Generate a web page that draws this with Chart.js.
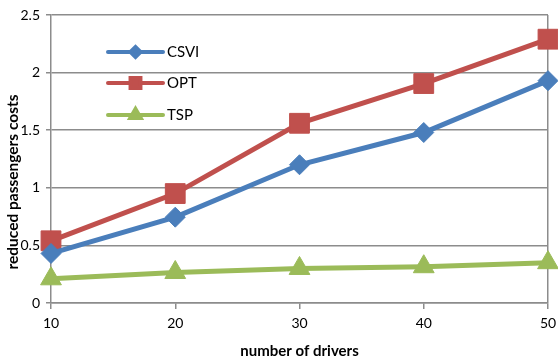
<!DOCTYPE html>
<html>
<head>
<meta charset="utf-8">
<script src="https://cdn.jsdelivr.net/npm/chart.js@4/dist/chart.umd.min.js"></script>
<style>
  html, body { margin: 0; padding: 0; background: #fff; }
  #wrap { width: 558px; height: 360px; }
</style>
</head>
<body>
<div id="wrap"><canvas id="c" width="558" height="360"></canvas></div>
<script>
const drivers = ['10', '20', '30', '40', '50'];
const csvi = [0.43, 0.745, 1.2, 1.48, 1.93];
const opt = [0.54, 0.95, 1.56, 1.905, 2.29];
const tsp = [0.21, 0.265, 0.30, 0.315, 0.35];

const FONT = 'Lato, "Open Sans", sans-serif';
const GRAY = '#8c8c8c';

// legend drawn inside the plot area, upper left
const innerLegend = {
  id: 'innerLegend',
  afterDatasetsDraw(chart) {
    const ctx = chart.ctx;
    const x0 = 108, x1 = 163, ys = [52, 83, 115];
    const sizes = [5, 7, 6];
    chart.data.datasets.forEach((ds, i) => {
      const y = ys[i];
      ctx.save();
      ctx.strokeStyle = ds.borderColor;
      ctx.lineWidth = 4;
      ctx.lineCap = 'round';
      ctx.beginPath();
      ctx.moveTo(x0, y);
      ctx.lineTo(x1, y);
      ctx.stroke();
      ctx.fillStyle = ds.borderColor;
      Chart.helpers.drawPoint(ctx, {
        pointStyle: ds.pointStyle,
        radius: sizes[i],
        rotation: 0,
        borderWidth: 1
      }, (x0 + x1) / 2, y);
      ctx.fillStyle = '#000';
      ctx.font = '15px ' + FONT;
      ctx.textBaseline = 'middle';
      ctx.textAlign = 'left';
      ctx.fillText(ds.label, x1 + 4, y);
      ctx.restore();
    });
  }
};

// vertical axis title, set a little below the middle of the plot
const yTitle = {
  id: 'yTitle',
  afterDraw(chart) {
    const ctx = chart.ctx;
    ctx.save();
    ctx.translate(13, 182);
    ctx.rotate(-Math.PI / 2);
    ctx.fillStyle = '#000';
    ctx.font = 'bold 15.5px ' + FONT;
    ctx.textAlign = 'center';
    ctx.textBaseline = 'middle';
    ctx.fillText('reduced passengers costs', 0, 0);
    ctx.restore();
  }
};

function series(label, data, color, style, radius) {
  return {
    label, data,
    borderColor: color,
    backgroundColor: color,
    pointBackgroundColor: color,
    pointBorderColor: color,
    borderWidth: 5,
    pointBorderWidth: 1,
    pointStyle: style,
    pointRadius: radius,
    pointHoverRadius: radius,
    tension: 0,
    clip: false
  };
}

const chart = new Chart(document.getElementById('c'), {
  type: 'line',
  data: {
    labels: drivers,
    datasets: [
      series('CSVI', csvi, '#4a7ebb', 'rectRot', 10),
      series('OPT', opt, '#c0504d', 'rect', 14),
      series('TSP', tsp, '#9bbb59', 'triangle', 12)
    ]
  },
  options: {
    responsive: false,
    animation: false,
    layout: { autoPadding: false, padding: { top: 15, right: 10, left: 0, bottom: 0 } },
    plugins: {
      legend: { display: false },
      tooltip: { enabled: false }
    },
    scales: {
      x: {
        offset: false,
        grid: {
          color: c => c.index === 4 ? GRAY : 'rgba(0,0,0,0)',
          tickColor: GRAY,
          tickLength: 6,
          lineWidth: 1.5
        },
        border: { color: GRAY, width: 1.5 },
        ticks: { color: '#000', font: { family: FONT, size: 14 }, padding: 6, maxRotation: 0 },
        title: {
          display: true,
          text: 'number of drivers',
          color: '#000',
          font: { family: FONT, size: 15, weight: 'bold' },
          padding: { top: 13, bottom: 0 }
        },
        afterFit(s) { s.height = 57; s.paddingLeft = 0; s.paddingRight = 0; }
      },
      y: {
        min: 0, max: 2.5,
        ticks: {
          stepSize: 0.5, color: '#000', font: { family: FONT, size: 14 }, padding: 6,
          callback: v => String(v)
        },
        grid: { color: GRAY, tickColor: GRAY, tickLength: 5, lineWidth: 1.5 },
        border: { color: GRAY, width: 1.5 },
        afterFit(s) { s.width = 51; s.paddingTop = 0; s.paddingBottom = 0; }
      }
    }
  },
  plugins: [innerLegend, yTitle]
});
</script>
</body>
</html>
